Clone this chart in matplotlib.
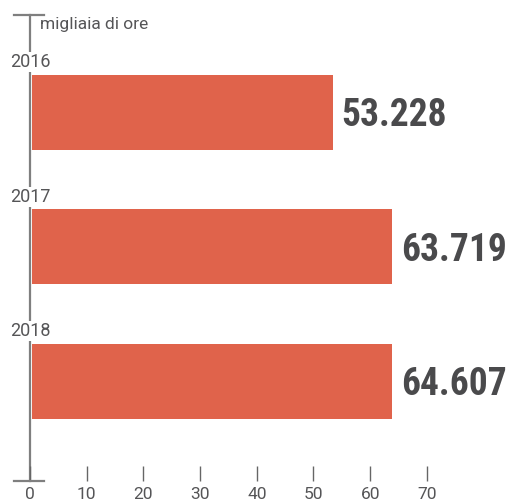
import numpy as np
import matplotlib
matplotlib.use('Agg')
import matplotlib.pyplot as plt

# data
anni = ['2016', '2017', '2018']
valori = [53.228, 63.719, 64.607]       # printed labels (migliaia di ore)
barre = [53.0, 63.5, 63.5]               # bar lengths as drawn in the picture
etichette = ['53.228', '63.719', '64.607']
xticks = [0, 10, 20, 30, 40, 50, 60, 70]

rosso = '#e0634b'
grigio = '#7f7f7f'
testo = '#555557'
scuro = '#4a4a4c'

W, H = 510, 503
fig = plt.figure(figsize=(W / 100, H / 100), dpi=100)
# axes: left edge on the vertical axis line, from y=15 to y=481 px
ax = fig.add_axes([30 / W, (H - 481) / H, 480 / W, 466 / H])

pxu = 5.67  # pixels per unit on x
ax.set_xlim(0, 480 / pxu)
step = 134.5
ax.set_ylim(2 + (481 - 381.4) / step, 0 - (112.4 - 15) / step)

pos = np.arange(len(anni))
ax.barh(pos, barre, height=75 / step, color=rosso, left=2 / pxu)

for y, lab, b in zip(pos, etichette, barre):
    ax.text(b + 2 / pxu + 9 / pxu, y + 0.025, lab, ha='left', va='center',
            fontsize=27, fontweight='bold', color=scuro,
            family=['Roboto Condensed', 'Liberation Sans Narrow', 'Roboto'])

for y, a in zip(pos, anni):
    ax.text(0, y - 50 / step, a, ha='center', va='center', fontsize=13,
            color=testo, family='Roboto', zorder=5,
            bbox=dict(facecolor='white', edgecolor='none', pad=0.6))

ax.text(10 / pxu, -0.724 + 9 / step, 'migliaia di ore', ha='left', va='center',
        fontsize=12.5, color=testo, family='Roboto')

for s in ['top', 'right', 'bottom']:
    ax.spines[s].set_visible(False)
ax.spines['left'].set_color(grigio)
ax.spines['left'].set_linewidth(1.6)
ax.spines['left'].set_zorder(1)

# small horizontal caps at top and bottom of the axis line
ax.plot([-16 / pxu, 14 / pxu], [-0.724, -0.724], color=grigio, lw=1.6, clip_on=False)
ax.plot([-16 / pxu, 14 / pxu], [ax.get_ylim()[0]] * 2, color=grigio, lw=1.6, clip_on=False)

ax.set_yticks([])
ax.set_xticks(xticks)
ax.set_xticklabels([str(t) for t in xticks], fontsize=12.5, color=testo, family='Roboto')
ax.tick_params(axis='x', direction='in', length=10.5, width=1, color='#666666', pad=4)

fig.savefig('out.png', dpi=100)
